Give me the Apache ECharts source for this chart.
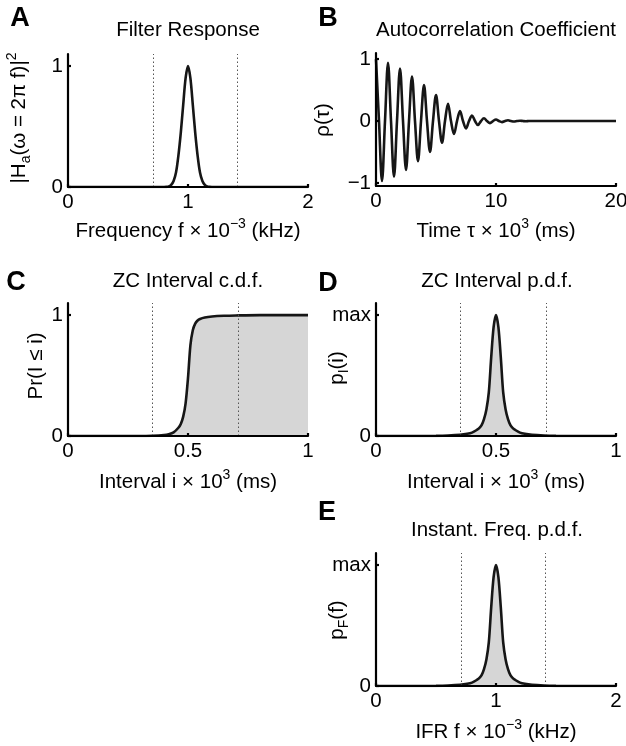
<!DOCTYPE html>
<html><head><meta charset="utf-8">
<script src="https://cdn.jsdelivr.net/npm/echarts@6/dist/echarts.min.js"></script>
<style>html,body{margin:0;padding:0;background:#fff}#c{width:626px;height:746px}</style>
</head><body><div id="c"></div>
<script>
// ---------- DATA ----------
// A: filter response |H_a|^2 vs frequency (x 10^-3 kHz)
const filterFreq = [0, 0.6, 0.8, 0.82, 0.84, 0.86, 0.88, 0.9, 0.92, 0.94, 0.96, 0.98, 1.0,
  1.02, 1.04, 1.06, 1.08, 1.1, 1.12, 1.14, 1.16, 1.18, 1.2, 1.4, 2];
const filterGain = [0, 0, 0, 0.001, 0.005, 0.018, 0.05, 0.12, 0.26, 0.45, 0.68, 0.90, 1.0,
  0.90, 0.68, 0.45, 0.26, 0.12, 0.05, 0.018, 0.005, 0.001, 0, 0, 0];

// B: autocorrelation coefficient vs lag (x 10^3 ms)
const lagTime = [0, 0.25, 0.5, 0.75, 1, 1.25, 1.5, 1.75, 2, 2.25, 2.5, 2.75, 3, 3.25, 3.5, 3.75,
  4, 4.25, 4.5, 4.75, 5, 5.25, 5.5, 5.75, 6, 6.25, 6.5, 6.75, 7, 7.25, 7.5, 7.75,
  8, 8.25, 8.5, 8.75, 9, 9.25, 9.5, 9.75, 10, 10.25, 10.5, 10.75, 11, 11.25, 11.5, 11.75,
  12, 12.25, 12.5, 12.75, 13, 20];
const autocorr = [1, 0, -0.97, 0, 0.94, 0, -0.90, 0, 0.85, 0, -0.79, 0, 0.72, 0, -0.65, 0,
  0.58, 0, -0.50, 0, 0.42, 0, -0.35, 0, 0.28, 0, -0.21, 0, 0.16, 0, -0.12, 0,
  0.09, 0, -0.065, 0, 0.045, 0, -0.033, 0, 0.024, 0, -0.017, 0, 0.012, 0, -0.008, 0,
  0.005, 0, -0.003, 0, 0, 0];

// C: zero-crossing interval c.d.f.
const cdfInterval = [0, 0.3, 0.35, 0.4, 0.42, 0.44, 0.46, 0.47, 0.48, 0.49, 0.5, 0.51, 0.52,
  0.53, 0.54, 0.55, 0.57, 0.6, 0.65, 0.7, 0.8, 1];
const cdfValue = [0, 0, 0.002, 0.008, 0.015, 0.03, 0.068, 0.1, 0.16, 0.27, 0.48, 0.75, 0.875,
  0.93, 0.955, 0.968, 0.98, 0.988, 0.994, 0.997, 1, 1];

// D: zero-crossing interval p.d.f. (normalised to max)
const pdfInterval = [0, 0.2, 0.25, 0.3, 0.35, 0.38, 0.4, 0.42, 0.43, 0.44, 0.45, 0.46, 0.47, 0.48, 0.49,
  0.5, 0.51, 0.52, 0.53, 0.54, 0.55, 0.56, 0.57, 0.58, 0.6, 0.62, 0.65, 0.7, 0.75, 0.8, 1];
const pdfValue = [0, 0, 0.001, 0.004, 0.01, 0.018, 0.028, 0.05, 0.065, 0.09, 0.14, 0.22, 0.36, 0.65, 0.9,
  1.0, 0.9, 0.65, 0.36, 0.22, 0.14, 0.09, 0.065, 0.05, 0.028, 0.018, 0.01, 0.004, 0.001, 0, 0];

// E: instantaneous frequency p.d.f. (normalised to max)
const ifrFreq = [0, 0.4, 0.5, 0.6, 0.7, 0.76, 0.8, 0.84, 0.86, 0.88, 0.9, 0.92, 0.94, 0.96, 0.98,
  1.0, 1.02, 1.04, 1.06, 1.08, 1.1, 1.12, 1.14, 1.16, 1.2, 1.24, 1.3, 1.4, 1.5, 1.6, 2];
const ifrValue = [0, 0, 0.001, 0.004, 0.01, 0.018, 0.028, 0.05, 0.065, 0.09, 0.14, 0.22, 0.36, 0.65, 0.9,
  1.0, 0.9, 0.65, 0.36, 0.22, 0.14, 0.09, 0.065, 0.05, 0.028, 0.018, 0.01, 0.004, 0.001, 0, 0];

// dotted band edges
const freqBandEdges = [0.707, 1.414];
const intervalBandEdges = [0.354, 0.707];

// axis ranges / ticks
const xRanges = [[0, 2, 1], [0, 20, 10], [0, 1, 0.5], [0, 1, 0.5], [0, 2, 1]];
const yRanges = [[0, 1.1], [-1.05, 1.1], [0, 1.1], [0, 1.1], [0, 1.1]];
const yTickValues = [[0, 1], [-1, 0, 1], [0, 1], [0, 1], [0, 1]];
const yTickNames = [['0', '1'], ['\u22121', '0', '1'], ['0', '1'], ['0', 'max'], ['0', 'max']];

// ---------- CHART ----------
const FONT = '"Liberation Sans", Arial, Helvetica, sans-serif';
const FS = 20.5;
const grids = [
  {left: 68, top: 54, width: 240, height: 133},
  {left: 376, top: 53, width: 240, height: 133},
  {left: 68, top: 303, width: 240, height: 133},
  {left: 376, top: 303, width: 240, height: 133},
  {left: 376, top: 553, width: 240, height: 133}
];
const AX = {color: '#000', width: 2.2};

const xAxes = xRanges.map((r, i) => ({
  gridIndex: i, type: 'value', min: r[0], max: r[1], interval: r[2], z: 5,
  axisLine: {show: true, onZero: false, lineStyle: AX},
  axisTick: {show: true, inside: true, length: 3, lineStyle: AX},
  axisLabel: {show: true, color: '#000', fontSize: FS, fontFamily: FONT, margin: 5, showMinLabel: true, showMaxLabel: true},
  splitLine: {show: false}
}));
const yAxes = yRanges.map((r, i) => ({
  gridIndex: i, type: 'value', min: r[0], max: r[1], z: 5,
  axisLine: {show: true, onZero: false, lineStyle: AX},
  axisTick: {show: true, inside: true, length: 3, lineStyle: AX, customValues: yTickValues[i]},
  axisLabel: {show: true, color: '#000', fontSize: FS, fontFamily: FONT, margin: 5,
    customValues: yTickValues[i],
    formatter: v => { const k = yTickValues[i].findIndex(t => Math.abs(t - v) < 1e-9); return k >= 0 ? yTickNames[i][k] : ''; }},
  splitLine: {show: false}
}));

function zip(a, b) { return a.map((x, i) => [x, b[i]]); }
function bandLines(edges) {
  return {silent: true, symbol: ['none', 'none'], label: {show: false}, animation: false,
    lineStyle: {type: [1.5, 2.5], color: '#555', width: 1}, emphasis: {disabled: true},
    data: edges.map(v => ({xAxis: v}))};
}
const LINE = {color: '#161616', width: 2.6};
const FILL = {color: '#d6d6d6', opacity: 1};
const series = [
  {type: 'line', xAxisIndex: 0, yAxisIndex: 0, data: zip(filterFreq, filterGain), showSymbol: false, smooth: 0.3, lineStyle: LINE, markLine: bandLines(freqBandEdges)},
  {type: 'line', xAxisIndex: 1, yAxisIndex: 1, data: zip(lagTime, autocorr), showSymbol: false, smooth: 0.35, lineStyle: LINE},
  {type: 'line', xAxisIndex: 2, yAxisIndex: 2, data: zip(cdfInterval, cdfValue), showSymbol: false, smooth: 0.3, lineStyle: LINE, areaStyle: FILL, markLine: bandLines(intervalBandEdges)},
  {type: 'line', xAxisIndex: 3, yAxisIndex: 3, data: zip(pdfInterval, pdfValue), showSymbol: false, smooth: 0.3, lineStyle: LINE, areaStyle: FILL, markLine: bandLines(intervalBandEdges)},
  {type: 'line', xAxisIndex: 4, yAxisIndex: 4, data: zip(ifrFreq, ifrValue), showSymbol: false, smooth: 0.3, lineStyle: LINE, areaStyle: FILL, markLine: bandLines(freqBandEdges)}
];

const RICH = {
  n: {fontSize: FS, fontFamily: FONT, fill: '#000', lineHeight: 28},
  sup: {fontSize: 14, fontFamily: FONT, fill: '#000', lineHeight: 16, verticalAlign: 'top'},
  sub: {fontSize: 14, fontFamily: FONT, fill: '#000', lineHeight: 12, verticalAlign: 'bottom'}
};
function txt(x, y, text, opt) {
  opt = opt || {};
  return {type: 'text', x: x, y: y, rotation: opt.rot || 0, z: 100, silent: true,
    style: {text: text, fontFamily: FONT, fontSize: opt.size || FS, fontWeight: opt.weight || 'normal',
      fill: '#000', align: 'center', verticalAlign: 'middle', rich: RICH}};
}
const R = Math.PI / 2;
const graphic = [
  // panel letters
  txt(20, 19, 'A', {size: 27, weight: 'bold'}),
  txt(328, 19, 'B', {size: 27, weight: 'bold'}),
  txt(16, 283, 'C', {size: 27, weight: 'bold'}),
  txt(328, 284, 'D', {size: 27, weight: 'bold'}),
  txt(327, 513, 'E', {size: 27, weight: 'bold'}),
  // titles
  txt(188, 30, '{n|Filter Response}'),
  txt(496, 30, '{n|Autocorrelation Coefficient}'),
  txt(188, 281, '{n|ZC Interval c.d.f.}'),
  txt(497, 281, '{n|ZC Interval p.d.f.}'),
  txt(497, 530, '{n|Instant. Freq. p.d.f.}'),
  // x labels
  txt(188, 231, '{n|Frequency f \u00d7 10}{sup|\u22123}{n| (kHz)}'),
  txt(496, 231, '{n|Time \u03c4 \u00d7 10}{sup|3}{n| (ms)}'),
  txt(188, 482, '{n|Interval i \u00d7 10}{sup|3}{n| (ms)}'),
  txt(496, 482, '{n|Interval i \u00d7 10}{sup|3}{n| (ms)}'),
  txt(496, 732, '{n|IFR f \u00d7 10}{sup|\u22123}{n| (kHz)}'),
  // y labels
  txt(19, 118, '{n||H}{sub|a}{n|(\u03c9 = 2\u03c0 f)|}{sup|2}', {rot: R}),
  txt(323, 120, '{n|\u03c1(\u03c4)}', {rot: R}),
  txt(36, 366, '{n|Pr(I \u2264 i)}', {rot: R}),
  txt(337, 368, '{n|p}{sub|I}{n|(i)}', {rot: R}),
  txt(337, 620, '{n|p}{sub|F}{n|(f)}', {rot: R})
];

const chart = echarts.init(document.getElementById('c'), null, {renderer: 'canvas', width: 626, height: 746});
chart.setOption({
  animation: false,
  backgroundColor: '#fff',
  grid: grids.map(g => Object.assign({containLabel: false, outerBoundsMode: 'none'}, g)),
  xAxis: xAxes,
  yAxis: yAxes,
  series: series,
  graphic: graphic
});
</script>
</body></html>
